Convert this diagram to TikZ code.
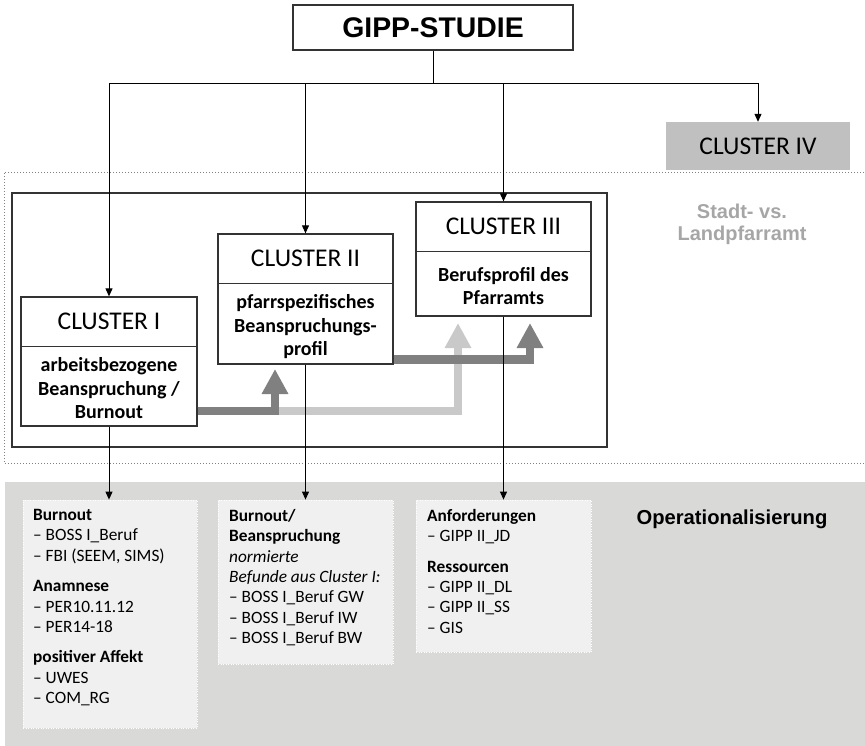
\documentclass[tikz,border=0pt]{standalone}
\usepackage{fontspec}
\setmainfont{Carlito}
\newfontfamily\arialfont{Liberation Sans}
\usetikzlibrary{arrows.meta,calc}

\definecolor{boxline}{HTML}{333333}
\definecolor{opgray}{HTML}{D9DAD8}
\definecolor{oplight}{HTML}{F0F0F0}
\definecolor{cfourgray}{HTML}{C0C0C0}
\definecolor{stadtgray}{HTML}{A6A6A6}
\definecolor{darkflow}{HTML}{808080}
\definecolor{lightflow}{HTML}{C9C9C9}

\begin{document}
\begin{tikzpicture}[x=1pt,y=-1pt,
  box/.style={draw=boxline, line width=1.3pt, fill=white, inner sep=0pt},
  divider/.style={draw=boxline, line width=1.3pt},
  conn/.style={draw=black, line width=1pt},
  arr/.style={conn, -{Triangle[length=8pt,width=7pt]}},
  header/.style={inner sep=0pt, font={\fontsize{25.5}{30}\selectfont}},
  body/.style={inner sep=0pt, align=center, font={\fontsize{20}{23.5}\selectfont\bfseries}},
  opbox/.style={draw=white, dash pattern=on 1pt off 1.5pt, line width=0.8pt, fill=oplight, inner sep=0pt},
  optext/.style={inner sep=0pt, align=left, anchor=north west, font={\fontsize{17.3}{20.4}\selectfont}},
  flow/.style={line width=8.5pt, line join=miter, -{Triangle[length=25pt,width=25pt]}}
]
\useasboundingbox (0,0) rectangle (865,745);

% operationalisation band
\fill[opgray] (5,482) rectangle (870,750);
\node[inner sep=0pt, font={\arialfont\fontsize{20.2}{24}\selectfont\bfseries}] (op) at (732,519) {Operationalisierung};

% dotted frame of clusters I-III
\draw[gray, line width=0.8pt, dash pattern=on 1pt off 2pt] (870,172) -- (4,172) -- (4,463) -- (870,463);
% solid frame round clusters I-III
\node[draw=boxline, line width=1.3pt, minimum width=595pt, minimum height=254pt, inner sep=0pt] (frame) at (309.5,320) {};

% boxes
\node[box, minimum width=280pt, minimum height=45pt, font={\arialfont\fontsize{28.4}{32}\selectfont\bfseries}] (gipp) at (433,27.5) {GIPP-STUDIE};

\node[box, minimum width=176pt, minimum height=129pt] (c1) at (109,361.5) {};
\node[box, minimum width=175pt, minimum height=130pt] (c2) at (305.5,299) {};
\node[box, minimum width=175pt, minimum height=114pt] (c3) at (503.5,259) {};
\node[inner sep=0pt, fill=cfourgray, minimum width=184pt, minimum height=48pt, font={\fontsize{25.5}{30}\selectfont}] (c4) at (758,146) {CLUSTER IV};

\draw[divider] ($(c1.north west)+(0,50)$) -- ($(c1.north east)+(0,50)$);
\draw[divider] ($(c2.north west)+(0,50)$) -- ($(c2.north east)+(0,50)$);
\draw[divider] ($(c3.north west)+(0,50)$) -- ($(c3.north east)+(0,50)$);

\node[header] (h1) at ($(c1.north)+(0,25)$) {CLUSTER I};
\node[header] (h2) at ($(c2.north)+(0,25)$) {CLUSTER II};
\node[header] (h3) at ($(c3.north)+(0,25)$) {CLUSTER III};

\node[body] (b1) at ($(c1.south)+(0,-38.5)$) {arbeitsbezogene\\Beanspruchung /\\Burnout};
\node[body] (b2) at ($(c2.south)+(0,-38)$) {pfarrspezifisches\\Beanspruchungs-\\profil};
\node[body] (b3) at ($(c3.south)+(0,-30.5)$) {Berufsprofil des\\Pfarramts};

\node[inner sep=0pt, align=center, text=stadtgray, font={\arialfont\fontsize{20}{22}\selectfont\bfseries}] (stadt) at (742,224) {Stadt- vs.\\Landpfarramt};

% operationalisation boxes
\node[opbox, minimum width=174pt, minimum height=228pt] (oA) at (110,614) {};
\node[opbox, minimum width=175pt, minimum height=164pt] (oB) at (305.5,582) {};
\node[opbox, minimum width=175pt, minimum height=152pt] (oC) at (503.5,576) {};

\node[optext] (tA) at (33,509) {\textbf{Burnout}\\
– BOSS I\_Beruf\\
– FBI (SEEM, SIMS)\\[10pt]
\textbf{Anamnese}\\
– PER10.11.12\\
– PER14-18\\[10pt]
\textbf{positiver Affekt}\\
– UWES\\
– COM\_RG};

\node[optext] (tB) at (229,509) {\textbf{Burnout/}\\
\textbf{Beanspruchung}\\
\textit{normierte}\\
\textit{Befunde aus Cluster I:}\\
– BOSS I\_Beruf GW\\
– BOSS I\_Beruf IW\\
– BOSS I\_Beruf BW};

\node[optext] (tC) at (427,509) {\textbf{Anforderungen}\\
– GIPP II\_JD\\[10pt]
\textbf{Ressourcen}\\
– GIPP II\_DL\\
– GIPP II\_SS\\
– GIS};

% flows between the clusters
\coordinate (lowrow) at (0,411);
\coordinate (midrow) at (0,359.5);
\coordinate (tipL) at (458,323);
\coordinate (tipA) at (275,369);
\coordinate (tipB) at (530,323);
\draw[flow, lightflow] (c1.east |- lowrow) -| (tipL);
\draw[flow, darkflow] (c1.east |- lowrow) -| (tipA);
\draw[flow, darkflow] (c2.east |- midrow) -| (tipB);

% connectors from the study to the clusters
\coordinate (hub) at (gipp.south |- 0,83);
\draw[conn] (gipp.south) -- (hub);
\draw[arr] (hub) -| (c1.north);
\draw[arr] (hub) -| (c2.north);
\draw[arr] (hub) -| (c3.north);
\draw[arr] (hub) -| (c4.north);

% connectors from the clusters to their measures
\draw[arr] (c1.south) -- (c1.south |- oA.north);
\draw[arr] (c2.south) -- (c2.south |- oB.north);
\draw[arr] (c3.south) -- (c3.south |- oC.north);
\end{tikzpicture}
\end{document}
